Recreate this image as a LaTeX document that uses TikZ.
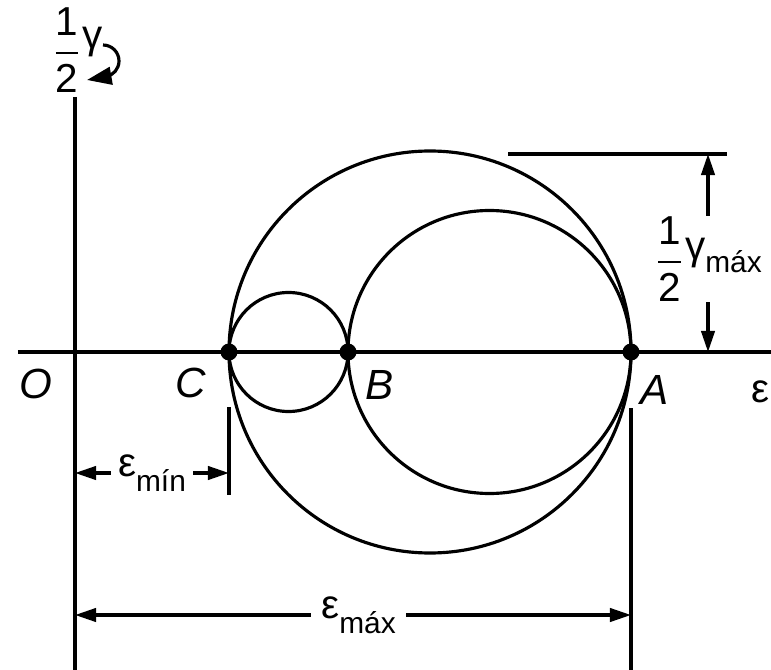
\documentclass[tikz,border=0pt]{standalone}
\usepackage{amsmath}
\usepackage{fontspec}
\setmainfont{Liberation Sans}
\usepackage{tikz}
\usetikzlibrary{positioning}
\usetikzlibrary{arrows.meta}

\begin{document}
\begin{tikzpicture}[line width=0.9pt, font=\fontsize{11.5}{13}\selectfont,
    punto/.style={circle, fill, inner sep=0pt, minimum size=0.17cm},
    lettera/.style={font=\fontsize{12}{13}\selectfont\itshape, inner sep=0pt},
    quota/.style={{Triangle[length=6pt,width=3.8pt]}-{Triangle[length=6pt,width=3.8pt]}}]

    \useasboundingbox (-0.75,-3.18) rectangle (6.96,3.52);

    % assi
    \node [inner sep=0pt] (O) at (0,0) {};
    \coordinate (ytop) at (0,2.55);
    \coordinate (ybot) at (0,-3.18);
    \coordinate (xsx) at (-0.57,0);
    \coordinate (xdx) at (6.96,0);
    \draw (xsx) -- (xdx);
    \draw (ytop) -- (ybot);

    \node [punto] (C) at (1.54,0) {};
    \node [punto] (B) at (2.73,0) {};
    \node [punto] (A) at (5.56,0) {};

    % cerchi di Mohr
    \draw (C.center) arc (180:-180:2.01);
    \draw (B.center) arc (180:-180:1.415);
    \draw (C.center) arc (180:-180:0.595);

    \node [lettera, below left=0.12cm and 0.18cm of O] (lO) {O};
    \node [lettera, below left=0.07cm and 0.14cm of C] (lC) {C};
    \node [lettera, below right=0.10cm and 0.09cm of B] (lB) {B};
    \node [lettera, below right=0.15cm and 0.01cm of A] (lA) {A};
    \node [inner sep=0pt] (eps) at (6.85,-0.40) {ε};

    % asse verticale
    \node [inner sep=0pt, anchor=west] (gam) at (-0.25,3.02)
        {$\dfrac{\text{1}}{\text{2}}$\raisebox{0.7ex}{γ}};
    \coordinate (hk1) at (0.28,3.07);
    \coordinate (hk2) at (0.12,2.72);
    \draw [-{Triangle[length=7pt,width=5pt]}] (hk1) arc (90:-80:0.16) -- (hk2);

    % quota gamma max
    \coordinate (tsx) at (4.33,1.98);
    \coordinate (tdx) at (6.52,1.98);
    \draw (tsx) -- (tdx);
    \coordinate (q1) at (6.33,1.98);
    \coordinate (q2) at (6.33,0);
    \draw [quota] (q1) -- node [pos=0.53, fill=white, inner sep=0pt] (gmax)
        {$\dfrac{\text{1}}{\text{2}}$\raisebox{0.6ex}{γ}{\fontsize{8.5}{10}\selectfont máx}} (q2);

    % quota eps min
    \coordinate (c1) at (1.54,-0.55);
    \coordinate (c2) at (1.54,-1.43);
    \draw (c1) -- (c2);
    \coordinate (m1) at (0,-1.21);
    \coordinate (m2) at (1.54,-1.21);
    \draw [quota] (m1) -- node [fill=white, inner sep=2pt] (emin)
        {ε\raisebox{-0.7ex}{\fontsize{8.5}{10}\selectfont mín}} (m2);

    % quota eps max
    \coordinate (a1) at (5.56,-0.56);
    \coordinate (a2) at (5.56,-3.18);
    \draw (a1) -- (a2);
    \coordinate (n1) at (0,-2.63);
    \coordinate (n2) at (5.56,-2.63);
    \draw [quota] (n1) -- node [pos=0.51, fill=white, inner sep=3pt] (emax)
        {ε\raisebox{-0.7ex}{\fontsize{8.5}{10}\selectfont máx}} (n2);

\end{tikzpicture}
\end{document}
